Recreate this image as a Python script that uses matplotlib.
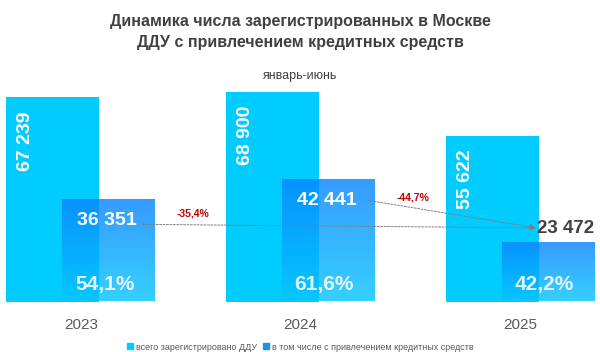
import matplotlib
matplotlib.use('Agg')
import matplotlib.pyplot as plt
import numpy as np
from matplotlib.colors import LinearSegmentedColormap
from matplotlib.transforms import offset_copy
from matplotlib.lines import Line2D

years = ['2023', '2024', '2025']
total = [67239, 68900, 55622]
credit = [36351, 42441, 23472]
total_labels = ['67 239', '68 900', '55 622']
credit_labels = ['36 351', '42 441', '23 472']
share_labels = ['54,1%', '61,6%', '42,2%']
change_labels = ['-35,4%', '-44,7%']
title = 'Динамика числа зарегистрированных в Москве\nДДУ с привлечением кредитных средств'
subtitle = 'январь-июнь'
legend_labels = ['всего зарегистрировано ДДУ', 'в том числе с привлечением кредитных средств']

plt.rcParams['font.family'] = ['Liberation Sans', 'DejaVu Sans']

fig = plt.figure(figsize=(6, 3.52), dpi=100)
ax = fig.add_axes([0, 50.5 / 352, 1, 241.5 / 352])

x = np.arange(len(years))
w = 0.423
off = 0.127
ymin, ymax = 5400, 78582
cyan = '#00CCFF'
blue = '#1E8CFF'

b1 = ax.bar(x - off, total, w, color=cyan, zorder=1)
b2 = ax.bar(x + off, credit, w, color='none', zorder=2)
grad = np.linspace(0, 1, 256).reshape(-1, 1)
cmap = LinearSegmentedColormap.from_list('g', ['#0A84FF', '#08C6FF'])
for p in b2:
    x0 = p.get_x()
    x1 = x0 + p.get_width()
    top = p.get_height()
    im = ax.imshow(grad, cmap=cmap, extent=[x0, x1, ymin, top], aspect='auto',
                   alpha=0.82, zorder=2, origin='upper')
    im.set_clip_path(p)

ax.set_xlim(-0.368, 2.364)
ax.set_ylim(ymin, ymax)

def off_tr(dx, dy):
    return offset_copy(ax.transData, fig=fig, x=dx, y=dy, units='dots')

# rotated totals
for xi, v, lbl in zip(x, total, total_labels):
    ax.text(xi - off, v, lbl, transform=off_tr(-27, -14), rotation=90,
            ha='center', va='top', color='white', fontsize=14, fontweight='bold', zorder=5)

# credit values
for i, (xi, v, lbl) in enumerate(zip(x, credit, credit_labels)):
    if i < 2:
        ax.text(xi + off, v, lbl, transform=off_tr(-2, -21), ha='center', va='center',
                color='white', fontsize=14, fontweight='bold', zorder=5)
    else:
        ax.text(xi + off, v, lbl, transform=off_tr(18, 13), ha='center', va='center',
                color='#404040', fontsize=13.5, fontweight='bold', zorder=5)

# shares
for xi, lbl in zip(x, share_labels):
    ax.text(xi + off, ymin, lbl, transform=off_tr(-4, 17), ha='center', va='center',
            color='white', alpha=0.88, fontsize=15, fontweight='bold', zorder=5)

# arrows
tgt_tr = off_tr(-12, 14)
arrow_kw = dict(arrowstyle='-|>', color='#7F7F7F', lw=0.7, linestyle=(0, (2, 1.5)),
                mutation_scale=8, shrinkA=0, shrinkB=0)
ax.annotate('', xy=(x[2] + off, credit[2]), xycoords=tgt_tr,
            xytext=(x[0] + off, credit[0]), textcoords=off_tr(34, -25),
            arrowprops=arrow_kw, zorder=4)
ax.annotate('', xy=(x[2] + off, credit[2]), xycoords=tgt_tr,
            xytext=(x[1] + off, credit[1]), textcoords=off_tr(39, -21),
            arrowprops=arrow_kw, zorder=4)
ax.text(x[0] + off, credit[0], change_labels[0], transform=off_tr(84, -14),
        ha='center', va='center', color='#C00000', fontsize=7.5, fontweight='bold')
ax.text(x[1] + off, credit[1], change_labels[1], transform=off_tr(85, -18),
        ha='center', va='center', color='#C00000', fontsize=7.5, fontweight='bold')

ax.set_xticks(x, years)
ax.tick_params(axis='x', length=0, pad=12, labelsize=11, labelcolor='#595959')
ax.set_yticks([])
for s in ax.spines.values():
    s.set_visible(False)

fig.text(0.5, 1 - 32 / 352, title, ha='center', va='center', fontsize=11.5,
         fontweight='bold', color='#404040', linespacing=1.45)
fig.text(0.5, 1 - 76 / 352, subtitle, ha='center', va='center', fontsize=9, color='#404040')

handles = [Line2D([], [], marker='s', linestyle='none', markersize=4, color=cyan),
           Line2D([], [], marker='s', linestyle='none', markersize=4, color=blue)]
fig.legend(handles, legend_labels, loc='center', bbox_to_anchor=(0.5, 1 - 347 / 352),
           ncol=2, frameon=False, fontsize=6.5, handlelength=0.8, handletextpad=0.3,
           columnspacing=0.6, labelcolor='#595959')

fig.savefig('out.png', dpi=100)
